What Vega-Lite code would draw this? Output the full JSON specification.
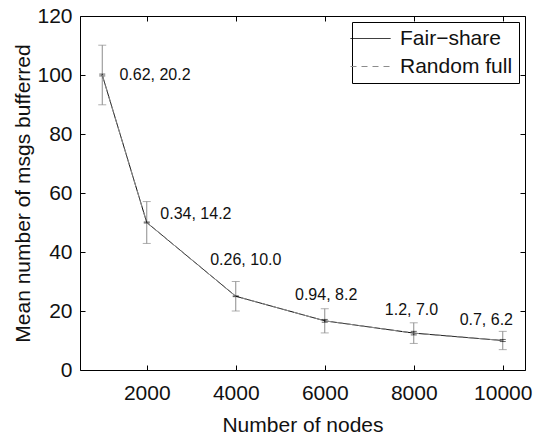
{
  "$schema": "https://vega.github.io/schema/vega-lite/v6.json",
  "autosize": "none",
  "width": 445,
  "height": 354,
  "padding": {"left": 80, "top": 16, "right": 8, "bottom": 67},
  "background": "white",
  "config": {
    "font": "Liberation Sans",
    "view": {"stroke": "black", "strokeWidth": 1},
    "axis": {"grid": false, "domain": false, "tickColor": "black", "tickSize": -5, "labelFontSize": 21, "labelColor": "#111", "titleFontSize": 21, "titleFontWeight": "normal", "titleColor": "#111", "labelFont": "Liberation Sans", "titleFont": "Liberation Sans"},
    "legend": {"orient": "top-right", "offset": 6, "strokeColor": "black", "fillColor": "white", "padding": 6, "labelFontSize": 21, "labelColor": "#111", "labelFont": "Liberation Sans", "symbolType": "M-4,0H4", "symbolSize": 100, "symbolOffset": 2, "symbolStrokeWidth": 1, "rowPadding": 6, "labelOffset": 19, "cornerRadius": 0}
  },
  "datasets": {
    "pts": [
      {"nodes": 1000, "series": "Fair−share", "mean": 100, "lo": 99.69, "hi": 100.31},
      {"nodes": 2000, "series": "Fair−share", "mean": 50, "lo": 49.83, "hi": 50.17},
      {"nodes": 4000, "series": "Fair−share", "mean": 25, "lo": 24.87, "hi": 25.13},
      {"nodes": 6000, "series": "Fair−share", "mean": 16.67, "lo": 16.2, "hi": 17.14},
      {"nodes": 8000, "series": "Fair−share", "mean": 12.5, "lo": 11.9, "hi": 13.1},
      {"nodes": 10000, "series": "Fair−share", "mean": 10, "lo": 9.65, "hi": 10.35},
      {"nodes": 1000, "series": "Random full", "mean": 100, "lo": 89.9, "hi": 110.1},
      {"nodes": 2000, "series": "Random full", "mean": 50, "lo": 42.9, "hi": 57.1},
      {"nodes": 4000, "series": "Random full", "mean": 25, "lo": 20, "hi": 30},
      {"nodes": 6000, "series": "Random full", "mean": 16.67, "lo": 12.57, "hi": 20.77},
      {"nodes": 8000, "series": "Random full", "mean": 12.5, "lo": 9, "hi": 16},
      {"nodes": 10000, "series": "Random full", "mean": 10, "lo": 6.9, "hi": 13.1}
    ],
    "labels": [
      {"lx": 1386, "ly": 100, "text": "0.62, 20.2"},
      {"lx": 2305, "ly": 52.9, "text": "0.34, 14.2"},
      {"lx": 3426, "ly": 37.3, "text": "0.26, 10.0"},
      {"lx": 5332, "ly": 25.4, "text": "0.94, 8.2"},
      {"lx": 7350, "ly": 20.3, "text": "1.2, 7.0"},
      {"lx": 9031, "ly": 16.9, "text": "0.7, 6.2"}
    ]
  },
  "data": {"name": "pts"},
  "layer": [
    {
      "transform": [{"filter": "datum.series === 'Random full'"}],
      "mark": {"type": "errorbar", "ticks": {"size": 8}, "color": "#8c8c8c"},
      "encoding": {
        "x": {"field": "nodes", "type": "quantitative", "scale": {"domain": [500, 10500], "nice": false},
              "axis": {"orient": "bottom", "values": [2000, 4000, 6000, 8000, 10000], "format": "d", "labelPadding": 17, "title": "Number of nodes", "titlePadding": 11}},
        "y": {"field": "lo", "type": "quantitative", "scale": {"domain": [0, 120], "nice": false},
              "axis": {"orient": "left", "values": [0, 20, 40, 60, 80, 100, 120], "labelPadding": 13, "title": "Mean number of msgs bufferred", "titlePadding": 3}},
        "y2": {"field": "hi"}
      }
    },
    {
      "transform": [{"filter": "datum.series === 'Fair−share'"}],
      "mark": {"type": "errorbar", "ticks": {"size": 6}, "color": "#222"},
      "encoding": {
        "x": {"field": "nodes", "type": "quantitative", "axis": null},
        "y": {"field": "lo", "type": "quantitative", "axis": null},
        "y2": {"field": "hi"}
      }
    },
    {
      "mark": {"type": "line", "strokeWidth": 1},
      "encoding": {
        "x": {"field": "nodes", "type": "quantitative", "axis": null},
        "y": {"field": "mean", "type": "quantitative", "axis": null},
        "color": {"field": "series", "type": "nominal", "scale": {"domain": ["Fair−share", "Random full"], "range": ["black", "#8c8c8c"]}, "legend": {"title": null}},
        "strokeDash": {"field": "series", "type": "nominal", "scale": {"domain": ["Fair−share", "Random full"], "range": [[1, 0], [6, 5]]}, "legend": {"title": null}}
      }
    },
    {
      "data": {"name": "labels"},
      "mark": {"type": "text", "align": "left", "baseline": "middle", "fontSize": 16, "font": "Liberation Sans", "color": "#111"},
      "encoding": {
        "x": {"field": "lx", "type": "quantitative", "axis": null},
        "y": {"field": "ly", "type": "quantitative", "axis": null},
        "text": {"field": "text"}
      }
    },
    {
      "mark": {"type": "rule", "opacity": 0},
      "encoding": {
        "x": {"field": "nodes", "type": "quantitative", "axis": {"orient": "top", "values": [2000, 4000, 6000, 8000, 10000], "labels": false, "title": null}},
        "y": {"field": "mean", "type": "quantitative", "axis": {"orient": "right", "values": [0, 20, 40, 60, 80, 100, 120], "labels": false, "title": null}}
      }
    }
  ],
  "resolve": {"axis": {"x": "independent", "y": "independent"}}
}
